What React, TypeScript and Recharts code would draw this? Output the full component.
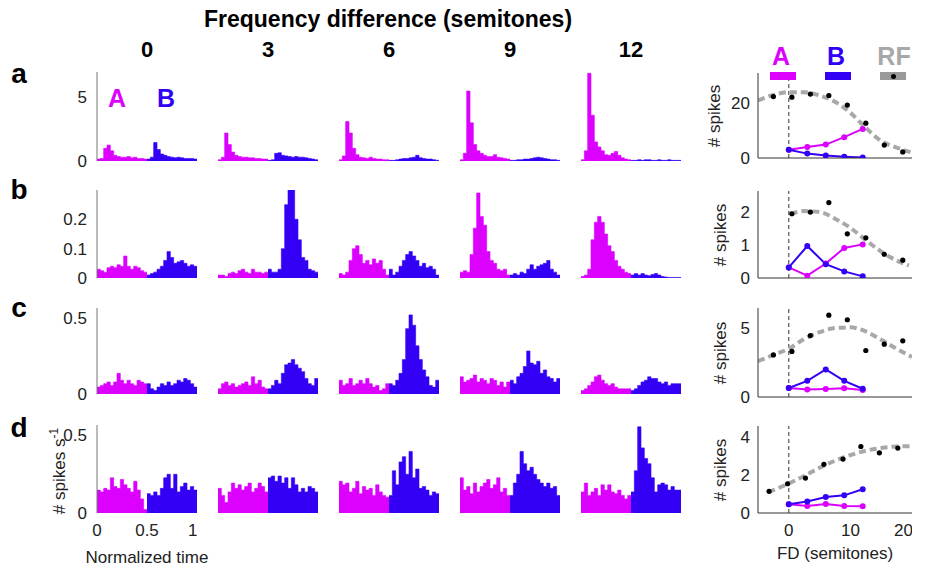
import React from "react";
import {
  Area,
  AreaChart,
  ComposedChart,
  Line,
  ReferenceLine,
  Scatter,
  XAxis,
  YAxis,
} from "recharts";

const MAGENTA = "#dc00ff";
const BLUE = "#3300f5";
const GREY = "#a8a8a8";
const FONT = "'Liberation Sans', Arial, sans-serif";

const semitoneLabels = ["0", "3", "6", "9", "12"];
const rowLetters = ["a", "b", "c", "d"];

// PSTHs, 15 bins per tone (A half then B half), one list per FD column
const psthRowA_A = [
  [0.15, 0.2, 1.0, 1.25, 0.8, 0.45, 0.35, 0.3, 0.3, 0.35, 0.25, 0.3, 0.2, 0.2, 0.15],
  [0.1, 0.3, 2.2, 1.3, 0.7, 0.45, 0.35, 0.3, 0.3, 0.25, 0.25, 0.2, 0.2, 0.15, 0.15],
  [0.1, 0.4, 3.1, 2.2, 1.0, 0.5, 0.3, 0.25, 0.2, 0.3, 0.2, 0.15, 0.15, 0.1, 0.1],
  [0.1, 0.6, 5.5, 3.0, 1.3, 0.8, 0.6, 0.45, 0.35, 0.35, 0.5, 0.3, 0.25, 0.2, 0.15],
  [0.1, 0.8, 6.9, 3.6, 1.5, 1.1, 0.8, 0.5, 0.45, 0.6, 0.75, 0.45, 0.25, 0.15, 0.1],
];
const psthRowA_B = [
  [0.15, 0.3, 1.45, 0.9, 0.55, 0.45, 0.35, 0.3, 0.25, 0.3, 0.25, 0.2, 0.2, 0.2, 0.15],
  [0.05, 0.1, 0.6, 0.65, 0.45, 0.4, 0.35, 0.3, 0.35, 0.3, 0.3, 0.25, 0.2, 0.15, 0.1],
  [0.05, 0.05, 0.1, 0.15, 0.2, 0.2, 0.25, 0.3, 0.45, 0.25, 0.2, 0.15, 0.15, 0.1, 0.05],
  [0.05, 0.05, 0.1, 0.1, 0.15, 0.15, 0.2, 0.25, 0.3, 0.25, 0.2, 0.15, 0.1, 0.1, 0.05],
  [0.05, 0.05, 0.1, 0.05, 0.1, 0.1, 0.05, 0.05, 0.1, 0.05, 0.05, 0.1, 0.05, 0.05, 0.05],
];

const psthRowB_A = [
  [0.03, 0.025, 0.02, 0.035, 0.04, 0.035, 0.045, 0.04, 0.075, 0.04, 0.03, 0.04, 0.035, 0.025, 0.02],
  [0.01, 0.01, 0.005, 0.015, 0.02, 0.015, 0.025, 0.03, 0.02, 0.015, 0.03, 0.02, 0.02, 0.015, 0.02],
  [0.015, 0.01, 0.02, 0.06, 0.1, 0.11, 0.08, 0.05, 0.06, 0.045, 0.065, 0.05, 0.06, 0.03, 0.01],
  [0.02, 0.025, 0.02, 0.08, 0.17, 0.29, 0.21, 0.18, 0.09, 0.06, 0.05, 0.03, 0.025, 0.03, 0.01],
  [0.005, 0.01, 0.03, 0.13, 0.19, 0.21, 0.19, 0.15, 0.11, 0.09, 0.06, 0.04, 0.03, 0.02, 0.015],
];
const psthRowB_B = [
  [0.01, 0.015, 0.02, 0.03, 0.04, 0.06, 0.09, 0.07, 0.05, 0.055, 0.06, 0.05, 0.04, 0.045, 0.04],
  [0.03, 0.02, 0.02, 0.03, 0.1, 0.25, 0.3, 0.3, 0.2, 0.13, 0.07, 0.06, 0.03, 0.025, 0.02],
  [0.03, 0.01, 0.02, 0.04, 0.06, 0.08, 0.09, 0.075, 0.06, 0.04, 0.05, 0.035, 0.04, 0.03, 0.01],
  [0.01, 0.015, 0.01, 0.02, 0.015, 0.03, 0.045, 0.03, 0.04, 0.045, 0.05, 0.06, 0.03, 0.02, 0.01],
  [0.01, 0.015, 0.01, 0.015, 0.01, 0.008, 0.012, 0.015, 0.01, 0.005, 0.003, 0.002, 0.002, 0.002, 0.002],
];

const psthRowC_A = [
  [0.04, 0.05, 0.06, 0.07, 0.05, 0.07, 0.12, 0.08, 0.06, 0.08, 0.06, 0.05, 0.08, 0.07, 0.06],
  [0.03, 0.06, 0.07, 0.05, 0.06, 0.04, 0.05, 0.06, 0.07, 0.05, 0.1, 0.06, 0.08, 0.04, 0.03],
  [0.08, 0.05, 0.06, 0.09, 0.05, 0.06, 0.08, 0.06, 0.09, 0.06, 0.04, 0.05, 0.02, 0.03, 0.06],
  [0.1, 0.07, 0.08, 0.09, 0.11, 0.07, 0.09, 0.08, 0.06, 0.09, 0.08, 0.05, 0.07, 0.04, 0.07],
  [0.02, 0.03, 0.05, 0.07, 0.1, 0.11, 0.08, 0.06, 0.05, 0.06, 0.04, 0.03, 0.03, 0.03, 0.03],
];
const psthRowC_B = [
  [0.06, 0.03, 0.02, 0.04, 0.06, 0.05, 0.07, 0.05, 0.06, 0.08, 0.07, 0.09, 0.08, 0.06, 0.04],
  [0.03, 0.05, 0.08, 0.06, 0.12, 0.17, 0.18, 0.2, 0.17, 0.15, 0.13, 0.09, 0.06, 0.05, 0.09],
  [0.06, 0.05, 0.08, 0.12, 0.2, 0.38, 0.46, 0.4, 0.28, 0.2, 0.14, 0.1, 0.05, 0.04, 0.08],
  [0.08, 0.06, 0.1, 0.12, 0.16, 0.25, 0.18, 0.17, 0.19, 0.12, 0.14, 0.1, 0.09, 0.07, 0.09],
  [0.02, 0.03, 0.05, 0.07, 0.08, 0.1, 0.09, 0.09, 0.07, 0.06, 0.07, 0.05, 0.06, 0.06, 0.06],
];

const psthRowD_A = [
  [0.13, 0.12, 0.14, 0.13, 0.2, 0.15, 0.14, 0.19, 0.16, 0.14, 0.12, 0.18, 0.13, 0.08, 0.02],
  [0.14, 0.1, 0.06, 0.12, 0.17, 0.14, 0.16, 0.13, 0.15, 0.17, 0.12, 0.14, 0.17, 0.15, 0.12],
  [0.18, 0.16, 0.17, 0.12, 0.14, 0.18, 0.11, 0.15, 0.13, 0.14, 0.1, 0.16, 0.12, 0.1, 0.09],
  [0.2, 0.13, 0.15, 0.11, 0.17, 0.12, 0.15, 0.17, 0.19, 0.14, 0.16, 0.2, 0.12, 0.14, 0.1],
  [0.12, 0.17, 0.1, 0.12, 0.14, 0.1, 0.16, 0.13, 0.16, 0.12, 0.11, 0.13, 0.1, 0.08, 0.1],
];
const psthRowD_B = [
  [0.11, 0.1, 0.12, 0.1, 0.14, 0.2, 0.22, 0.14, 0.22, 0.12, 0.15, 0.17, 0.13, 0.15, 0.13],
  [0.2, 0.21, 0.18, 0.21, 0.17, 0.2, 0.14, 0.2, 0.16, 0.12, 0.14, 0.12, 0.15, 0.14, 0.12],
  [0.1, 0.24, 0.16, 0.29, 0.32, 0.22, 0.35, 0.2, 0.25, 0.14, 0.15, 0.13, 0.1, 0.12, 0.11],
  [0.1, 0.17, 0.22, 0.35, 0.28, 0.24, 0.26, 0.22, 0.19, 0.17, 0.15, 0.17, 0.14, 0.15, 0.1],
  [0.12, 0.24, 0.49, 0.37, 0.31, 0.28, 0.2, 0.12, 0.16, 0.17, 0.16, 0.13, 0.15, 0.13, 0.13],
];

// tuning panels (right column)
const fdSteps = [0, 3, 6, 9, 12];

const spikesA_a = [3.0, 4.0, 4.9, 7.6, 10.6];
const spikesB_a = [3.0, 1.6, 0.9, 0.5, 0.2];
const rfX_a = [-2.5, 0.5, 3.5, 6.5, 9.5, 12.5, 15.5, 18.5];
const rfY_a = [22.4, 22.2, 23.3, 22.8, 19.3, 12.7, 4.7, 2.2];
const fitX_a = [-5, -2.5, 0, 2.5, 5, 7.5, 10, 12.5, 15, 17.5, 20];
const fitY_a = [21, 23, 24, 24, 22.8, 20.5, 16.5, 11, 6.2, 3.8, 2];

const spikesA_b = [0.32, 0.07, 0.44, 0.91, 1.02];
const spikesB_b = [0.32, 0.97, 0.42, 0.2, 0.05];
const rfX_b = [0.5, 3.5, 6.5, 9.5, 12.5, 15.5, 18.5];
const rfY_b = [1.95, 2.0, 2.29, 1.34, 1.22, 0.72, 0.54];
const fitX_b = [0.3, 2.5, 5, 7.5, 10, 12.5, 15, 17.5, 19.5];
const fitY_b = [1.95, 2.03, 2.0, 1.8, 1.52, 1.15, 0.8, 0.53, 0.38];

const spikesA_c = [0.65, 0.54, 0.58, 0.63, 0.5];
const spikesB_c = [0.65, 1.17, 2.0, 1.17, 0.6];
const rfX_c = [-2.5, 0.5, 3.5, 6.5, 9.5, 12.5, 15.5, 18.5];
const rfY_c = [3.05, 3.3, 4.45, 5.93, 5.6, 3.37, 3.83, 4.07];
const fitX_c = [-5, -2.5, 0, 2.5, 5, 7.5, 10, 12.5, 15, 17.5, 20];
const fitY_c = [2.6, 3.05, 3.5, 4.2, 4.7, 5.0, 5.05, 4.75, 4.15, 3.5, 2.9];

const spikesA_d = [0.46, 0.37, 0.48, 0.37, 0.36];
const spikesB_d = [0.46, 0.61, 0.84, 0.93, 1.25];
const rfX_d = [-3.2, -0.2, 2.7, 5.7, 8.8, 11.7, 14.7, 17.7];
const rfY_d = [1.14, 1.54, 1.84, 2.56, 2.84, 3.5, 3.17, 3.42];
const fitX_d = [-3.3, 0, 2.5, 5, 7.5, 10, 12.5, 15, 17.5, 20];
const fitY_d = [1.1, 1.55, 1.95, 2.38, 2.75, 3.05, 3.28, 3.42, 3.5, 3.52];

const zip = (xs: number[], ys: number[]) => xs.map((x, i) => ({ x, y: ys[i] }));

// step-area rows: A over t in [0, .5], B over [.5, 1]
function psthData(a: number[], b: number[]) {
  const n = a.length;
  const rows: { t: number; a: number | null; b: number | null }[] = [];
  for (let i = 0; i <= 2 * n; i++) {
    rows.push({
      t: i / (2 * n),
      a: i < n ? a[i] : i === n ? a[n - 1] : null,
      b: i < n ? null : i < 2 * n ? b[i - n] : b[n - 1],
    });
  }
  return rows;
}

const rows = [
  { top: 72, h: 89, yMax: 7, ticks: [0, 5], A: psthRowA_A, B: psthRowA_B },
  { top: 190, h: 88, yMax: 0.3, ticks: [0, 0.1, 0.2], A: psthRowB_A, B: psthRowB_B },
  { top: 308, h: 86, yMax: 0.5, ticks: [0, 0.5], A: psthRowC_A, B: psthRowC_B },
  { top: 425, h: 88, yMax: 0.5, ticks: [0, 0.5], A: psthRowD_A, B: psthRowD_B },
];

const tuning = [
  { top: 73, h: 85, yMax: 31, ticks: [0, 20], A: spikesA_a, B: spikesB_a, rfX: rfX_a, rfY: rfY_a, fitX: fitX_a, fitY: fitY_a, labelX: 714 },
  { top: 191, h: 87, yMax: 2.64, ticks: [0, 1, 2], A: spikesA_b, B: spikesB_b, rfX: rfX_b, rfY: rfY_b, fitX: fitX_b, fitY: fitY_b, labelX: 720 },
  { top: 308, h: 89, yMax: 6.45, ticks: [0, 5], A: spikesA_c, B: spikesB_c, rfX: rfX_c, rfY: rfY_c, fitX: fitX_c, fitY: fitY_c, labelX: 720 },
  { top: 426, h: 87, yMax: 4.58, ticks: [0, 2, 4], A: spikesA_d, B: spikesB_d, rfX: rfX_d, rfY: rfY_d, fitX: fitX_d, fitY: fitY_d, labelX: 720 },
];

const tickStyle = { fontSize: 17, fill: "#222", fontFamily: FONT };

function Txt({ x, y, size = 17, bold = false, color = "#222", rotate = 0, children }: any) {
  return (
    <div
      style={{
        position: "absolute",
        left: x,
        top: y,
        transform: `translate(-50%, -50%) rotate(${rotate}deg)`,
        fontSize: size,
        fontWeight: bold ? 700 : 400,
        color,
        fontFamily: FONT,
        whiteSpace: "nowrap",
        lineHeight: 1,
      }}
    >
      {children}
    </div>
  );
}

function Psth({ a, b, left, top, h, yMax, ticks, showY, showX }: any) {
  const axisW = showY ? 40 : 0;
  const xH = showX ? 30 : 0;
  const padB = showY && !showX ? 12 : 0;
  return (
    <div style={{ position: "absolute", left: left - axisW, top }}>
      <AreaChart
        width={100 + axisW}
        height={h + xH + padB}
        data={psthData(a, b)}
        margin={{ top: 0, right: 0, bottom: padB, left: 0 }}
      >
        <XAxis
          dataKey="t"
          type="number"
          domain={[0, 1]}
          ticks={[0, 0.5, 1]}
          hide={!showX}
          height={xH}
          axisLine={false}
          tickLine={false}
          tickSize={0}
          tickMargin={11}
          tick={tickStyle}
        />
        <YAxis
          type="number"
          domain={[0, yMax]}
          allowDataOverflow
          ticks={ticks}
          hide={!showY}
          width={axisW}
          axisLine={{ stroke: "#777" }}
          tickLine={false}
          tickSize={0}
          tickMargin={10}
          tick={tickStyle}
        />
        <Area
          type="stepAfter"
          dataKey="a"
          stroke={MAGENTA}
          strokeWidth={0.6}
          fill={MAGENTA}
          fillOpacity={1}
          isAnimationActive={false}
        />
        <Area
          type="stepAfter"
          dataKey="b"
          stroke={BLUE}
          strokeWidth={0.6}
          fill={BLUE}
          fillOpacity={1}
          isAnimationActive={false}
        />
      </AreaChart>
    </div>
  );
}

function Tuning({ cfg, showX }: any) {
  const axisW = 45;
  const xH = showX ? 30 : 1;
  const padB = showX ? 0 : 12;
  const dotA = { r: 2, fill: MAGENTA, stroke: MAGENTA };
  const dotB = { r: 2, fill: BLUE, stroke: BLUE };
  return (
    <div style={{ position: "absolute", left: 758 - axisW, top: cfg.top }}>
      <ComposedChart
        width={154 + axisW}
        height={cfg.h + xH + padB}
        margin={{ top: 0, right: 0, bottom: padB, left: 0 }}
      >
        <XAxis
          dataKey="x"
          type="number"
          domain={[-5, 20]}
          ticks={[0, 10, 20]}
          allowDataOverflow
          height={xH}
          axisLine={{ stroke: "#333" }}
          tickLine={false}
          tickSize={0}
          tickMargin={11}
          tick={showX ? tickStyle : false}
        />
        <YAxis
          type="number"
          domain={[0, cfg.yMax]}
          ticks={cfg.ticks}
          allowDataOverflow
          width={axisW}
          axisLine={{ stroke: "#333" }}
          tickLine={false}
          tickSize={0}
          tickMargin={8}
          tick={tickStyle}
        />
        <ReferenceLine x={0} stroke="#333" strokeDasharray="4 3" />
        <Line
          data={zip(cfg.fitX, cfg.fitY)}
          dataKey="y"
          type="monotone"
          stroke={GREY}
          strokeWidth={4}
          strokeDasharray="7 4"
          dot={false}
          isAnimationActive={false}
        />
        <Scatter
          data={zip(cfg.rfX, cfg.rfY)}
          dataKey="y"
          isAnimationActive={false}
          shape={(p: any) => <circle cx={p.cx} cy={p.cy} r={2.6} fill="#000" />}
        />
        <Line
          data={zip(fdSteps, cfg.A)}
          dataKey="y"
          stroke={MAGENTA}
          strokeWidth={2}
          dot={dotA}
          isAnimationActive={false}
        />
        <Line
          data={zip(fdSteps, cfg.B)}
          dataKey="y"
          stroke={BLUE}
          strokeWidth={2}
          dot={dotB}
          isAnimationActive={false}
        />
      </ComposedChart>
    </div>
  );
}

export default function App() {
  return (
    <div
      style={{
        position: "absolute",
        left: 0,
        top: 0,
        width: 925,
        height: 570,
        background: "#fff",
        fontFamily: FONT,
      }}
    >
      <Txt x={388} y={19} size={23} bold color="#000">
        Frequency difference (semitones)
      </Txt>
      {semitoneLabels.map((s, i) => (
        <Txt key={s} x={147 + 121 * i} y={50} size={22} bold color="#000">
          {s}
        </Txt>
      ))}
      {rowLetters.map((l, i) => (
        <Txt key={l} x={19} y={[74, 190, 308, 428][i]} size={28} bold color="#000">
          {l}
        </Txt>
      ))}

      {rows.map((r, ri) =>
        r.A.map((a: number[], ci: number) => (
          <Psth
            key={`${ri}-${ci}`}
            a={a}
            b={r.B[ci]}
            left={97 + 121 * ci}
            top={r.top}
            h={r.h}
            yMax={r.yMax}
            ticks={r.ticks}
            showY={ci === 0}
            showX={ri === 3 && ci === 0}
          />
        )),
      )}

      <Txt x={117} y={98} size={25} bold color={MAGENTA}>A</Txt>
      <Txt x={166} y={98} size={25} bold color={BLUE}>B</Txt>

      <Txt x={58} y={471} rotate={-90}>
        # spikes s<sup style={{ fontSize: 12 }}>-1</sup>
      </Txt>
      <Txt x={147} y={557}>Normalized time</Txt>

      {tuning.map((cfg, i) => (
        <React.Fragment key={i}>
          <Tuning cfg={cfg} showX={i === 3} />
          <Txt x={cfg.labelX} y={cfg.top + cfg.h / 2} rotate={-90}>
            # spikes
          </Txt>
        </React.Fragment>
      ))}
      <Txt x={835} y={553}>FD (semitones)</Txt>

      {/* legend */}
      <Txt x={781} y={56} size={25} bold color={MAGENTA}>A</Txt>
      <Txt x={836} y={56} size={25} bold color={BLUE}>B</Txt>
      <Txt x={894} y={56} size={25} bold color={GREY}>RF</Txt>
      <div style={{ position: "absolute", left: 770, top: 72, width: 26, height: 8, background: MAGENTA }} />
      <div style={{ position: "absolute", left: 825, top: 72, width: 26, height: 8, background: BLUE }} />
      <div style={{ position: "absolute", left: 880, top: 72, width: 26, height: 8, background: "#9a9a9a" }}>
        <div style={{ position: "absolute", left: 10.5, top: 1.5, width: 5, height: 5, borderRadius: 3, background: "#000" }} />
      </div>
    </div>
  );
}
